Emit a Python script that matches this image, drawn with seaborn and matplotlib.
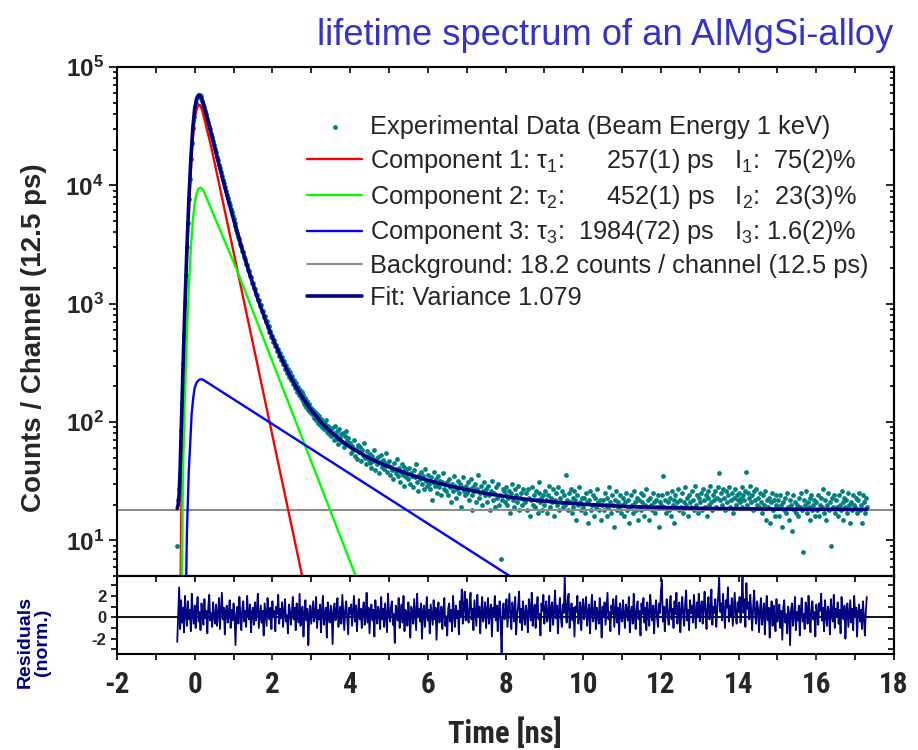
import numpy as np
import matplotlib
matplotlib.use("Agg")
import matplotlib.pyplot as plt
import seaborn as sns
from matplotlib import font_manager
from matplotlib.ticker import MultipleLocator, FixedLocator, FuncFormatter, LogLocator, NullFormatter

# ---------------- data ----------------
channel_ns = 0.025          # spacing of the plotted channels
t_start = -0.45             # first plotted channel [ns]

counts_rise = [9, 22, 27, 38, 84, 142, 310, 540, 1020, 1750, 2990, 4760, 7680, 11400, 16700,
               22800, 30300, 37900, 44800, 50000, 54400, 56800, 58100, 57700, 56600, 54200,
               51600, 48400, 45500]
counts_peak = [42300, 40100, 36700, 34500, 31700, 29900, 27300, 25800, 23600, 22100,
               20300, 19000, 17400, 16300, 15000, 14050, 12900, 12100, 11100, 10450,
               9600, 9030, 8310, 7850, 7200, 6810, 6270, 5970, 5480, 5210,
               4790, 4570, 4180, 3990, 3660, 3510, 3200, 3080, 2810, 2720,
               2470, 2400, 2180, 2130, 1920, 1890, 1700, 1680, 1510, 1490,
               1350, 1330, 1200, 1190, 1070, 1075, 965, 968, 865, 872,
               778, 790, 702, 716, 640, 651, 574, 592, 525, 538,
               476, 491, 436, 449, 398, 412, 364, 381, 333, 352,
               307, 327, 283, 301, 262, 281, 241, 263, 226, 245,
               209, 227, 194, 213, 181, 199, 170, 188, 160, 178,
               151, 168, 142, 160, 135, 151, 127, 142, 121]
counts_tail = [131, 118, 127, 109, 121, 104, 116, 99, 112, 95, 107, 91, 101, 88, 97, 104, 83, 92, 79, 88,
               76, 89, 81, 70, 93, 78, 84, 72, 65, 87, 74, 79, 68, 81, 62, 76, 84, 70, 73, 66,
               67, 55, 63, 58, 70, 52, 59, 49, 64, 56, 61, 47, 58, 53, 66, 50, 44, 57, 52, 48,
               54, 45, 41, 52, 47, 58, 39, 49, 44, 51, 37, 46, 53, 42, 48, 40, 45, 55, 38, 43,
               47, 36, 42, 39, 33, 45, 40, 37, 49, 35, 41, 31, 38, 44, 36, 29, 42, 39, 34, 40,
               33, 41, 30, 37, 35, 28, 39, 34, 44, 31, 26, 36, 33, 38, 30, 35, 27, 40, 32, 29,
               36, 30, 27, 34, 22, 31, 38, 29, 33, 25, 30, 35, 28, 32, 24, 31, 37, 27, 30, 26,
               31, 24, 33, 28, 21, 30, 26, 35, 29, 23, 27, 32, 25, 30, 19, 28, 34, 26, 24, 29,
               25, 31, 22, 27, 33, 24, 18, 28, 26, 30, 21, 27, 36, 23, 25, 29, 20, 26, 31, 24,
               27, 21, 29, 24, 18, 26, 32, 22, 25, 19, 28, 23, 30, 20, 24, 7, 22, 27, 26, 21,
               24, 28, 20, 23, 26, 17, 25, 30, 22, 19, 27, 24, 21, 29, 18, 23, 25, 20, 27, 22,
               21, 25, 18, 27, 23, 16, 22, 28, 20, 24, 19, 26, 22, 17, 25, 31, 21, 23, 18, 24,
               20, 26, 22, 17, 24, 29, 19, 23, 21, 27, 16, 22, 25, 20, 28, 18, 23, 21, 26, 19,
               24, 20, 36, 22, 18, 25, 21, 27, 17, 23, 19, 26, 22, 15, 24, 20, 28, 21, 18, 23,
               19, 23, 17, 25, 21, 14, 22, 26, 18, 20, 24, 16, 23, 19, 27, 21, 18, 22, 15, 20,
               22, 18, 25, 20, 16, 23, 19, 28, 21, 17, 24, 20, 13, 22, 26, 18, 21, 19, 24, 17,
               20, 23, 16, 21, 25, 18, 22, 14, 19, 24, 20, 17, 26, 21, 18, 23, 15, 22, 19, 25,
               18, 21, 24, 16, 20, 27, 19, 22, 15, 23, 20, 18, 25, 21, 17, 22, 19, 24, 13, 21,
               20, 24, 35, 19, 22, 17, 25, 21, 18, 23, 16, 26, 20, 22, 14, 24, 19, 21, 27, 18,
               22, 19, 25, 17, 21, 28, 20, 23, 16, 24, 21, 19, 26, 22, 18, 29, 20, 24, 17, 23,
               21, 25, 18, 27, 22, 19, 24, 16, 23, 26, 20, 29, 21, 18, 24, 22, 26, 19, 23, 28,
               37, 22, 25, 20, 27, 23, 18, 26, 21, 24, 28, 19, 22, 25, 17, 23, 27, 20, 24, 22,
               25, 21, 23, 28, 19, 24, 22, 26, 38, 20, 25, 23, 29, 21, 24, 18, 26, 22, 27, 20,
               23, 19, 25, 21, 17, 24, 20, 26, 15, 22, 19, 23, 14, 21, 25, 18, 22, 16, 20, 24,
               19, 22, 16, 24, 20, 13, 21, 18, 23, 17, 25, 19, 15, 22, 20, 12, 24, 18, 21, 17,
               20, 16, 23, 19, 25, 18, 8, 22, 20, 26, 17, 21, 19, 23, 15, 24, 18, 20, 22, 16,
               21, 18, 24, 16, 20, 23, 19, 27, 17, 22, 15, 20, 25, 18, 21, 9, 23, 19, 24, 17,
               22, 19, 16, 24, 20, 18, 26, 21, 15, 23, 19, 22, 17, 25, 20, 14, 21, 18, 24, 20,
               19, 23, 17, 22, 25, 18, 20, 14, 24, 21, 17, 23, 19]
counts = counts_rise + counts_peak + counts_tail

residuals = [-2.3, 0.4, 2.8, -1.1, 1.6, -0.5, 0.9, -1.4, 2.0, 0.3, -0.8, 1.5, -0.2, 0.7, -1.3, 2.2, 0.1, -0.6, 1.1, -1.0,
             0.8, 1.9, -0.4, 0.5, -1.2, 1.3, 0.2, -0.7, 1.7, -0.1, 0.6, -1.5, 1.0, 2.1, -0.3, 0.4, -0.9, 1.4, 0.0, -0.6,
             1.2, -0.8, 0.3, 1.8, -1.1, 0.6, 2.3, -0.2, 0.9, -1.6, 0.5, 1.1, -0.5, 0.2, 1.6, -1.0, 0.7, -0.3, 1.3, 0.1,
             -2.6, 0.4, 1.0, -0.6, 1.9, 0.2, -1.2, 0.8, 1.5, -0.4, 0.6, -0.9, 2.0, 0.3, -0.2, 1.2, -1.4, 0.5, 0.9, -0.7,
             1.4, -0.3, 0.7, 2.2, -1.0, 0.1, 1.1, -0.5, 0.6, -1.7, 1.3, 0.2, -0.8, 1.8, 0.4, -0.2, 0.9, -1.1, 1.5, 0.0,
             0.6, -1.3, 1.0, 0.3, 2.1, -0.6, 0.8, -0.1, 1.4, -0.9, 0.5, 1.7, -0.4, 0.2, -1.5, 1.2, 0.7, -0.7, 0.4, 1.9,
             -0.2, 0.9, -1.2, 1.3, 0.1, -0.5, 2.2, -0.8, 0.6, 1.0, -1.8, 0.4, 1.6, -0.3, 0.8, -2.6, 0.3, 1.1, -0.6, 0.5,
             1.5, -0.4, 0.2, 1.9, -1.0, 0.7, -0.2, 1.2, -1.4, 0.6, 2.0, -0.7, 0.3, 0.9, -1.9, 1.4, 0.0, -0.5, 1.1, 0.4,
             -2.5, 0.8, 1.3, -0.3, 0.5, 1.8, -0.9, 0.2, 1.0, -0.6, 2.1, 0.4, -1.2, 0.7, 1.5, -0.1, -1.6, 0.9, 0.3, 1.2,
             -0.8, 0.6, 2.0, -0.4, 1.1, -1.3, 0.3, 1.7, -0.2, 0.8, -1.0, 0.5, 1.4, -0.7, 0.1, 2.3, -0.5, 0.9, -1.5, 0.6,
             1.2, -0.3, 0.7, -1.8, 1.6, 0.2, -0.6, 1.0, 0.4, -1.1, 1.9, -0.2, 0.8, -0.9, 1.3, 0.0, -1.4, 2.2, 0.5, -0.4,
             0.9, 1.5, -0.7, 0.3, -2.4, 1.1, 0.6, -0.3, 1.8, -1.0, 0.4, 1.2, -0.5, 2.0, -1.3, 0.7, 0.1, -0.8, 1.4, 0.2,
             -1.9, 1.0, 0.5, -0.6, 1.7, 0.3, -1.2, 2.2, 0.0, 0.8, -0.4, 1.3, -2.0, 0.6, 1.1, -0.9, 0.4, 1.9, -0.3, 0.7,
             -1.5, 1.2, 0.2, -0.7, 1.6, -0.2, 0.9, -2.1, 0.5, 1.4, -0.5, 0.3, 1.0, -1.1, 0.6, 1.8, -0.8, 0.1, -1.7, 0.8,
             1.3, -0.4, 0.7, -1.3, 2.0, 0.4, -0.9, 1.1, -0.1, 0.6, -1.6, 1.5, 0.2, 2.6, -0.6, 1.0, 2.4, -0.3, 1.7, 0.3,
             -0.5, 1.2, 2.3, -0.2, 0.8, -1.2, 1.6, 0.4, -0.8, 2.1, 0.1, 1.0, -1.5, 0.6, 1.9, -0.4, 0.3, 1.4, -1.0, 0.7,
             1.8, -0.6, 0.5, 1.2, -1.8, 0.9, 0.2, 2.0, -0.3, 1.1, -1.3, 0.6, 1.5, -0.7, -3.4, 0.8, 1.3, -0.2, 0.4, 1.7,
             -0.9, 0.6, 2.2, 0.1, -1.1, 1.4, 0.7, -0.4, 1.9, -1.6, 0.3, 1.0, 2.4, -0.5, 0.8, -1.2, 1.5, 0.2, -0.7, 1.1,
             0.4, -1.4, 1.7, 0.9, -0.3, 2.3, -0.8, 0.5, 1.2, -1.0, 0.7, 1.9, -0.2, 0.3, -1.7, 1.3, 0.6, 2.1, -0.6, 0.8,
             1.5, -0.4, 0.2, 2.0, -1.3, 0.9, 1.4, -0.7, 0.5, 2.5, -0.1, 1.1, -1.5, 0.6, 1.8, 0.0, -0.9, 1.2, 0.4, 3.8,
             0.7, -0.5, 1.6, 2.2, -1.0, 0.3, 1.3, -0.3, 0.9, -1.8, 1.0, 0.5, 2.0, -0.6, 0.2, 1.4, -1.2, 0.8, 1.7, -0.2,
             0.6, 1.9, -0.8, 0.4, 1.2, -1.5, 0.7, 2.1, -0.4, 0.1, 1.5, -1.1, 0.9, 0.3, -0.6, 1.8, 0.5, -1.9, 1.0, 0.2,
             1.4, -0.7, 0.8, 2.3, -0.2, 0.5, -1.3, 1.1, 0.3, 1.7, -0.9, 0.6, 2.0, -0.5, 0.9, -1.6, 1.3, 0.1, -0.4, 1.6,
             0.2, -1.0, 1.2, 0.7, -0.3, 1.9, -1.4, 0.5, 1.0, -0.6, 2.2, 0.4, -1.1, 0.8, 1.5, -0.2, 0.6, -1.7, 1.3, 0.3,
             1.8, -0.5, 0.9, -1.2, 1.4, 0.2, -0.8, 2.1, 0.6, -0.3, 1.1, -1.5, 0.7, 1.6, 0.0, -0.9, 1.3, 0.4, 2.4, 3.5,
             -0.4, 1.0, -1.3, 0.6, 1.7, 0.1, -0.7, 1.2, 2.0, -0.2, 0.8, -1.0, 1.5, 0.3, 2.3, -0.6, 0.9, 1.4, -1.4, 0.5,
             1.9, 0.2, -0.8, 1.3, 2.5, -0.3, 0.7, -1.2, 1.6, 0.4, 1.1, -0.5, 2.1, 0.6, -1.0, 1.4, 0.0, 2.2, -0.4, 0.9,
             1.5, -0.6, 0.8, 2.4, 0.3, -1.1, 1.2, 1.9, -0.2, 0.6, 2.6, -0.7, 1.0, 0.4, 1.7, -0.9, 0.7, 2.0, 3.7, 0.5,
             1.3, -0.3, 2.2, 0.6, -1.0, 1.6, 0.9, 2.8, -0.4, 1.1, 0.2, 1.8, -0.8, 0.7, 2.3, 0.1, -0.6, 1.4, 0.5, 1.9,
             -0.5, 1.2, 3.8, 0.4, 1.7, -0.9, 3.2, 0.8, 1.4, -0.2, 2.1, 0.6, -1.2, 1.0, 2.5, 0.3, -0.6, 1.5, 0.9, -1.4,
             0.7, 1.8, -0.7, 0.2, 1.3, -1.6, 0.6, 2.0, -0.3, 0.9, -1.9, 0.4, 1.5, -0.8, 1.1, 0.0, -1.3, 1.7, -0.4, 0.5,
             1.2, -1.0, 0.6, -2.1, 0.9, 1.6, -0.5, 0.3, -1.5, 1.0, 0.4, -2.6, 0.7, 1.3, -0.8, 0.2, 1.9, -1.2, 0.5, -0.3,
             1.1, -1.7, 0.6, 1.8, -0.4, 0.3, -1.1, 1.4, 0.8, -0.6, 2.0, 0.1, -1.4, 0.9, 1.5, -0.2, 0.5, -1.8, 1.2, 0.4,
             -0.7, 1.3, 0.6, 2.2, -0.3, 0.9, -1.3, 1.6, 0.2, -0.8, 1.0, 0.5, -1.6, 1.7, 0.3, -0.4, 2.1, -1.0, 0.8, 0.1,
             1.4, -0.6, 0.7, -1.5, 1.9, 0.4, -0.2, 1.1, -2.0, 0.6, 1.3, -0.9, 0.3, 1.6, -0.5, 0.8, -1.2, 2.0, 0.2, 0.9,
             -1.8, 0.5, 1.2, -0.4, 0.7, -1.1, 1.5, 0.0, -1.7, 0.6, 1.9]

# fit and component curves (time [ns], counts)
fit_t = [-0.45, -0.425, -0.4, -0.375, -0.35, -0.325, -0.3, -0.275, -0.25, -0.2, -0.15, -0.1, -0.05, 0.0,
         0.05, 0.1, 0.125, 0.15, 0.2, 0.25, 0.3, 0.4, 0.5, 0.6, 0.8, 1.0, 1.2, 1.4, 1.6, 1.8, 2.0, 2.2,
         2.4, 2.6, 2.8, 3.0, 3.25, 3.5, 3.75, 4.0, 4.5, 5.0, 5.5, 6.0, 6.5, 7.0, 7.5, 8.0, 8.5, 9.0,
         9.5, 10.0, 11.0, 12.0, 13.0, 14.0, 15.0, 16.0, 17.3]
fit_v = [18.6, 20, 25, 40, 80, 150, 300, 550, 1000, 2950, 7600, 16600, 30200, 44700,
         54300, 57900, 57800, 56500, 51500, 45400, 39800, 29700, 22000, 16200, 8970, 5160, 3040, 1850,
         1160, 762, 517, 364, 265, 200, 157, 126, 100, 82.5, 70.3, 61.4, 49.3, 41.7, 36.3, 32.2,
         29.1, 26.8, 24.9, 23.5, 22.3, 21.45, 20.75, 20.2, 19.4, 18.96, 18.67, 18.5, 18.38, 18.31, 18.26]
red_t = [-0.37, -0.35, -0.325, -0.3, -0.275, -0.25, -0.2, -0.15, -0.1, -0.05, 0.0, 0.05, 0.1, 0.125,
         0.15, 0.2, 0.25, 0.3, 0.4, 0.5, 0.607, 3.0]
red_v = [3, 12, 60, 200, 420, 790, 2350, 6100, 13400, 24500, 36500, 44300, 47600, 47800,
         47000, 42000, 36500, 30900, 22900, 16300, 11100, 2.17]
green_t = [-0.345, -0.3, -0.25, -0.2, -0.15, -0.1, -0.05, 0.0, 0.05, 0.1, 0.15, 0.2, 0.22, 1.08, 3.18, 4.5]
green_v = [3, 40, 180, 560, 1400, 2900, 5000, 7100, 8600, 9400, 9550, 9300, 9120, 1950, 32.7, 2.5]
blue_t = [-0.225, -0.2, -0.15, -0.12, -0.08, -0.036, 0.0, 0.05, 0.1, 0.15, 0.2, 0.25, 9.0]
blue_v = [3.5, 12, 40, 62, 115, 162, 195, 215, 226, 230, 229, 224, 3.25]
background = 18.2

legend_labels = ["Experimental Data (Beam Energy 1 keV)",
                 "Component 1: τ$_1$:      257(1) ps   I$_1$:  75(2)%",
                 "Component 2: τ$_2$:      452(1) ps   I$_2$:  23(3)%",
                 "Component 3: τ$_3$:  1984(72) ps   I$_3$: 1.6(2)%",
                 "Background: 18.2 counts / channel (12.5 ps)",
                 "Fit: Variance 1.079"]
title = "lifetime spectrum of an AlMgSi-alloy"
ylabel = "Counts / Channel (12.5 ps)"
rlabel = "Residuals\n(norm.)"
xlabel = "Time [ns]"

t_counts = t_start + channel_ns * np.arange(len(counts))
t_resid = t_start + channel_ns * np.arange(len(residuals))

# ---------------- style ----------------
sns.set_theme(style="ticks")
names = {f.name for f in font_manager.fontManager.ttflist}
NARROW = next((n for n in ["Liberation Sans Narrow", "Arial Narrow", "Roboto Condensed",
                           "Archivo Narrow", "DejaVu Sans Condensed"] if n in names), "Liberation Sans")
plt.rcParams["font.family"] = ["Liberation Sans", "DejaVu Sans"]
plt.rcParams["mathtext.fontset"] = "custom"
plt.rcParams["mathtext.rm"] = "Liberation Sans"
plt.rcParams["mathtext.it"] = "Liberation Sans:italic"
plt.rcParams["mathtext.bf"] = "Liberation Sans:bold"
plt.rcParams["axes.unicode_minus"] = False
plt.rcParams["axes.linewidth"] = 1.5

TEAL = "#008080"
NAVY = "#000080"

fig = plt.figure(figsize=(9.18, 7.5), dpi=100)
L, W = 117 / 918, 777 / 918
ax = fig.add_axes([L, 1 - 576 / 750, W, 509 / 750])
axr = fig.add_axes([L, 1 - 654 / 750, W, 78 / 750], sharex=ax)

sns.scatterplot(x=t_counts, y=counts, ax=ax, color=TEAL, s=12, linewidth=0,
                label=legend_labels[0], zorder=2)
sns.lineplot(x=red_t, y=red_v, ax=ax, color="#ff0000", lw=1.7, sort=False, estimator=None,
             label=legend_labels[1], zorder=3)
sns.lineplot(x=green_t, y=green_v, ax=ax, color="#00ff00", lw=1.7, sort=False, estimator=None,
             label=legend_labels[2], zorder=3)
sns.lineplot(x=blue_t, y=blue_v, ax=ax, color="#0000ff", lw=1.7, sort=False, estimator=None,
             label=legend_labels[3], zorder=3)
ax.axhline(background, color="#8c8c8c", lw=1.5, label=legend_labels[4], zorder=2.5)
sns.lineplot(x=fit_t, y=fit_v, ax=ax, color=NAVY, lw=2.6, sort=False, estimator=None,
             label=legend_labels[5], zorder=4)

ax.set_yscale("log")
ax.set_ylim(5, 1e5)
ax.set_xlim(-2, 18)
ax.set_xlabel("")
ax.set_ylabel("")

leg = ax.legend(loc="upper left", bbox_to_anchor=(0.2445, 0.906), frameon=False, fontsize=18.3,
                handlelength=2.17, handletextpad=0.3, labelspacing=0.31, borderaxespad=0,
                borderpad=0)

axr.axhline(0, color="black", lw=1.3, zorder=1)
sns.lineplot(x=t_resid, y=residuals, ax=axr, color=NAVY, lw=1.3, sort=False, estimator=None,
             legend=False, zorder=2)
axr.set_ylim(-3.43, 3.86)
axr.set_xlabel("")
axr.set_ylabel("")

# ---------------- ticks ----------------
tk = dict(width=1.2, color="black")
ax.xaxis.set_major_locator(MultipleLocator(2))
ax.xaxis.set_minor_locator(MultipleLocator(1))
ax.tick_params(axis="x", which="both", direction="out", bottom=True, top=False,
               labelbottom=False, length=4.5, **tk)
ax.yaxis.set_major_locator(LogLocator(base=10))
ax.yaxis.set_minor_locator(LogLocator(base=10, subs=np.arange(2, 10)))
ax.yaxis.set_minor_formatter(NullFormatter())
ax.yaxis.set_major_formatter(FuncFormatter(lambda v, p: r"$\mathbf{10^{%d}}$" % round(np.log10(v))))
ax.tick_params(axis="y", which="major", direction="out", left=True, right=False, length=5.5,
               labelsize=17.5, pad=4, **tk)
ax.tick_params(axis="y", which="minor", direction="out", left=True, right=False, length=3.2, **tk)

top = ax.secondary_xaxis("top")
top.xaxis.set_major_locator(MultipleLocator(2))
top.xaxis.set_minor_locator(MultipleLocator(1))
top.tick_params(axis="x", which="both", direction="in", length=4.5, labeltop=False, **tk)
right = ax.secondary_yaxis("right")
right.yaxis.set_major_locator(LogLocator(base=10))
right.yaxis.set_minor_locator(LogLocator(base=10, subs=np.arange(2, 10)))
right.yaxis.set_major_formatter(NullFormatter())
right.yaxis.set_minor_formatter(NullFormatter())
right.tick_params(axis="y", which="major", direction="in", length=5.5, **tk)
right.tick_params(axis="y", which="minor", direction="in", length=3.2, **tk)

axr.tick_params(axis="x", which="both", direction="out", bottom=True, top=False, length=4.5,
                labelsize=21, pad=8, **tk)
axr.yaxis.set_major_locator(FixedLocator([-2, 0, 2]))
axr.yaxis.set_minor_locator(MultipleLocator(1))
axr.tick_params(axis="y", which="both", direction="out", left=True, right=False, length=4.5,
                labelsize=12, pad=3, **tk)
rtop = axr.secondary_xaxis("top")
rtop.xaxis.set_major_locator(MultipleLocator(2))
rtop.xaxis.set_minor_locator(MultipleLocator(1))
rtop.tick_params(axis="x", which="both", direction="in", length=4.5, labeltop=False, **tk)
rright = axr.secondary_yaxis("right")
rright.yaxis.set_major_locator(FixedLocator([-2, 0, 2]))
rright.yaxis.set_minor_locator(MultipleLocator(1))
rright.tick_params(axis="y", which="both", direction="in", length=4.5, labelright=False, **tk)

for a in (ax, axr, top, right, rtop, rright):
    for s in a.spines.values():
        s.set_linewidth(1.5)
        s.set_color("black")

for lab in axr.get_xticklabels():
    lab.set_fontfamily(NARROW)
    lab.set_fontweight("bold")
for lab in axr.get_yticklabels():
    lab.set_fontweight("bold")

# ---------------- texts ----------------
fig.text(893 / 918, 1 - 45 / 750, title, ha="right", va="baseline", fontsize=26.2, color="#3333cc")
fig.text(34 / 918, 1 - 338 / 750, ylabel, rotation=90, ha="center", va="center",
         fontsize=20, fontweight="bold")
fig.text(34 / 918, 1 - 642 / 750, rlabel, rotation=90, ha="center", va="center",
         fontsize=14, fontweight="bold", color=NAVY, multialignment="center", linespacing=1.0)
fig.text(505 / 918, 1 - 733 / 750, xlabel, ha="center", va="center", fontsize=22,
         fontweight="bold", fontfamily=NARROW)

fig.savefig("out.png", dpi=100)
